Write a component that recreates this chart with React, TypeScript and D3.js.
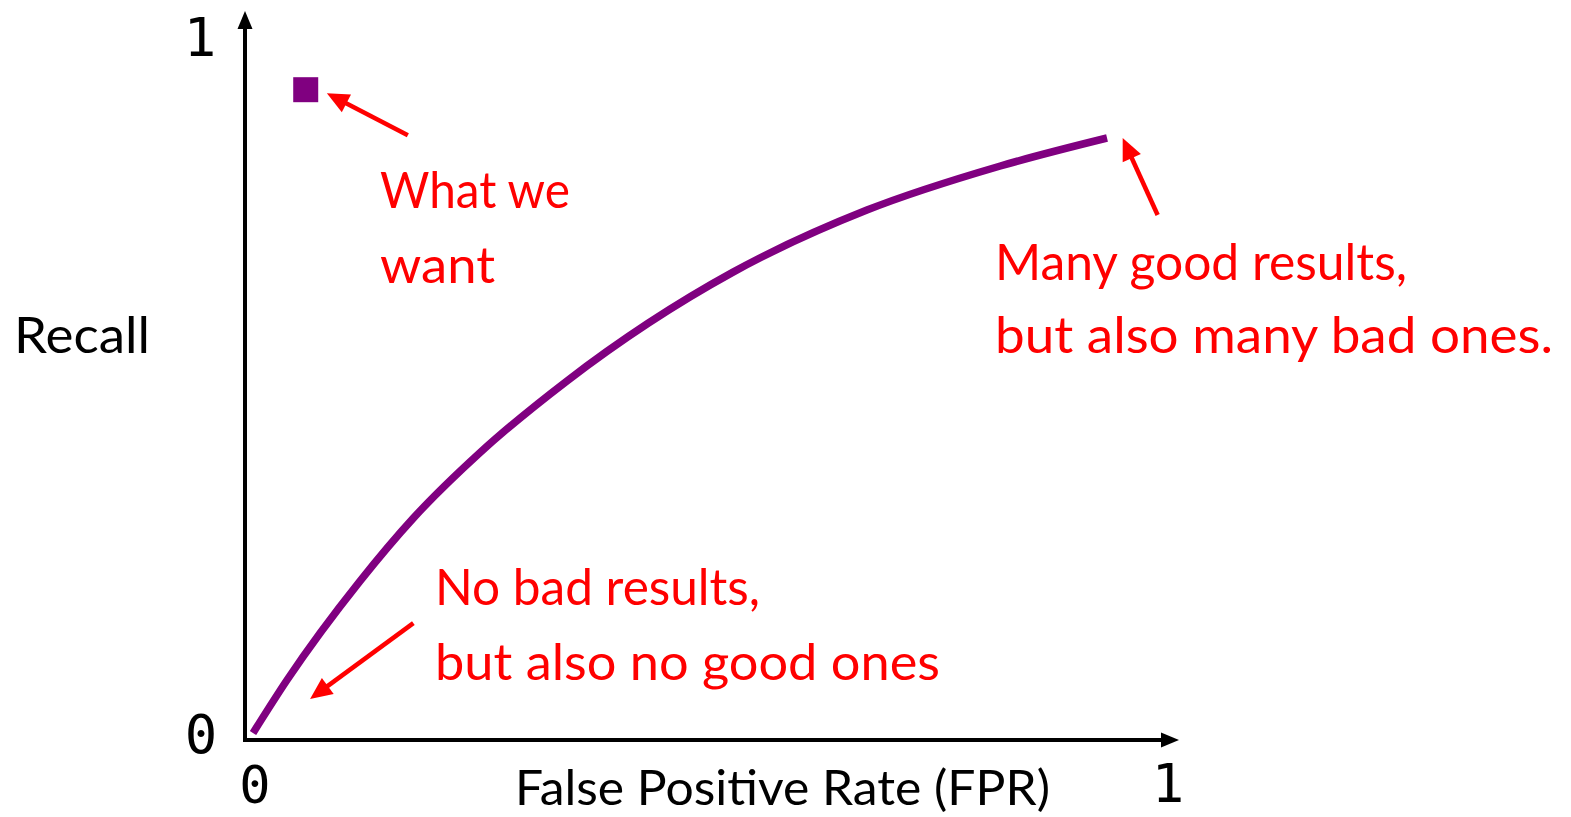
import React from "react";
import * as d3 from "d3";

const W = 1571;
const H = 817;

// ROC-like curve (FPR, Recall)
const curveFPR = [0.0087, 0.0457, 0.125, 0.183, 0.255, 0.35, 0.53, 0.676, 0.821, 0.937];
const curveRecall = [0.01, 0.0857, 0.227, 0.317, 0.41, 0.513, 0.668, 0.757, 0.82, 0.86];

// ideal point
const idealPoint = [0.066, 0.929];

// annotation arrows: [x, y] in data units
const arrowFrom = [
  [0.177, 0.864],
  [0.992, 0.75],
  [0.183, 0.167],
];
const arrowTo = [
  [0.089, 0.924],
  [0.954, 0.86],
  [0.0707, 0.0586],
];

const tickLabels = ["0", "1"];

const labelLines = [
  ["What we", "want"],
  ["Many good results,", "but also many bad ones."],
  ["No bad results,", "but also no good ones"],
];

export default function App() {
  const x = d3.scaleLinear().domain([0, 1]).range([245, 1165]);
  const y = d3.scaleLinear().domain([0, 1]).range([740, 40]);

  const pts: [number, number][] = curveFPR.map((f, i) => [f, curveRecall[i]]);
  const line = d3
    .line<[number, number]>()
    .x((d) => x(d[0]))
    .y((d) => y(d[1]))
    .curve(d3.curveMonotoneX);

  const textFont = "Lato, 'Open Sans', sans-serif";
  const monoFont = "'DejaVu Sans Mono', 'Liberation Mono', monospace";

  const arrowPath = (fx: number, fy: number, tx: number, ty: number) => {
    const x1 = x(fx), y1 = y(fy), x2 = x(tx), y2 = y(ty);
    const ang = Math.atan2(y2 - y1, x2 - x1);
    const hl = 22, hw = 10;
    const bx = x2 - hl * Math.cos(ang);
    const by = y2 - hl * Math.sin(ang);
    const px = -Math.sin(ang), py = Math.cos(ang);
    return {
      shaft: `M${x1},${y1}L${bx + 2 * Math.cos(ang)},${by + 2 * Math.sin(ang)}`,
      head: `M${x2},${y2}L${bx + hw * px},${by + hw * py}L${bx - hw * px},${by - hw * py}Z`,
    };
  };

  const sq = 25;

  return (
    <svg
      width={W}
      height={H}
      style={{ position: "absolute", left: 0, top: 0, background: "#fff" }}
    >
      {/* axes */}
      <line x1={x(0)} y1={y(0) + 2} x2={x(0)} y2={26} stroke="#000" strokeWidth={4} />
      <path d={`M${x(0)},11L${x(0) - 7.5},29L${x(0) + 7.5},29Z`} fill="#000" />
      <line x1={x(0) - 2} y1={y(0)} x2={1164} y2={y(0)} stroke="#000" strokeWidth={4} />
      <path d={`M1179,${y(0)}L1161,${y(0) - 7.5}L1161,${y(0) + 7.5}Z`} fill="#000" />

      {/* tick labels */}
      <text x={200} y={56} fontFamily={monoFont} fontSize={54} textAnchor="middle">{tickLabels[1]}</text>
      <text x={201} y={753} fontFamily={monoFont} fontSize={54} textAnchor="middle">{tickLabels[0]}</text>
      <text x={255} y={803} fontFamily={monoFont} fontSize={52} textAnchor="middle">{tickLabels[0]}</text>
      <text x={1168} y={802} fontFamily={monoFont} fontSize={54} textAnchor="middle">{tickLabels[1]}</text>

      {/* axis titles */}
      <text x={14} y={353} fontFamily={textFont} fontSize={50} fill="#000" textLength={136} lengthAdjust="spacingAndGlyphs">Recall</text>
      <text x={515} y={805} fontFamily={textFont} fontSize={48} fill="#000" textLength={535} lengthAdjust="spacingAndGlyphs">False Positive Rate (FPR)</text>

      {/* curve */}
      <path d={line(pts) || ""} fill="none" stroke="#800080" strokeWidth={7.5} />

      {/* ideal point */}
      <rect x={x(idealPoint[0]) - sq / 2} y={y(idealPoint[1]) - sq / 2} width={sq} height={sq} fill="#800080" />

      {/* arrows */}
      {arrowFrom.map((f, i) => {
        const a = arrowPath(f[0], f[1], arrowTo[i][0], arrowTo[i][1]);
        return (
          <g key={i}>
            <path d={a.shaft} stroke="#ff0000" strokeWidth={4.5} fill="none" />
            <path d={a.head} fill="#ff0000" />
          </g>
        );
      })}

      {/* annotations */}
      <text fontFamily={textFont} fontSize={50} fill="#ff0000">
        <tspan x={380} y={208} textLength={190} lengthAdjust="spacingAndGlyphs">{labelLines[0][0]}</tspan>
        <tspan x={380} y={283} textLength={115} lengthAdjust="spacingAndGlyphs">{labelLines[0][1]}</tspan>
      </text>
      <text fontFamily={textFont} fontSize={50} fill="#ff0000">
        <tspan x={995} y={280} textLength={412} lengthAdjust="spacingAndGlyphs">{labelLines[1][0]}</tspan>
        <tspan x={995} y={353} textLength={558} lengthAdjust="spacingAndGlyphs">{labelLines[1][1]}</tspan>
      </text>
      <text fontFamily={textFont} fontSize={50} fill="#ff0000">
        <tspan x={435} y={605} textLength={325} lengthAdjust="spacingAndGlyphs">{labelLines[2][0]}</tspan>
        <tspan x={435} y={680} textLength={505} lengthAdjust="spacingAndGlyphs">{labelLines[2][1]}</tspan>
      </text>
    </svg>
  );
}
